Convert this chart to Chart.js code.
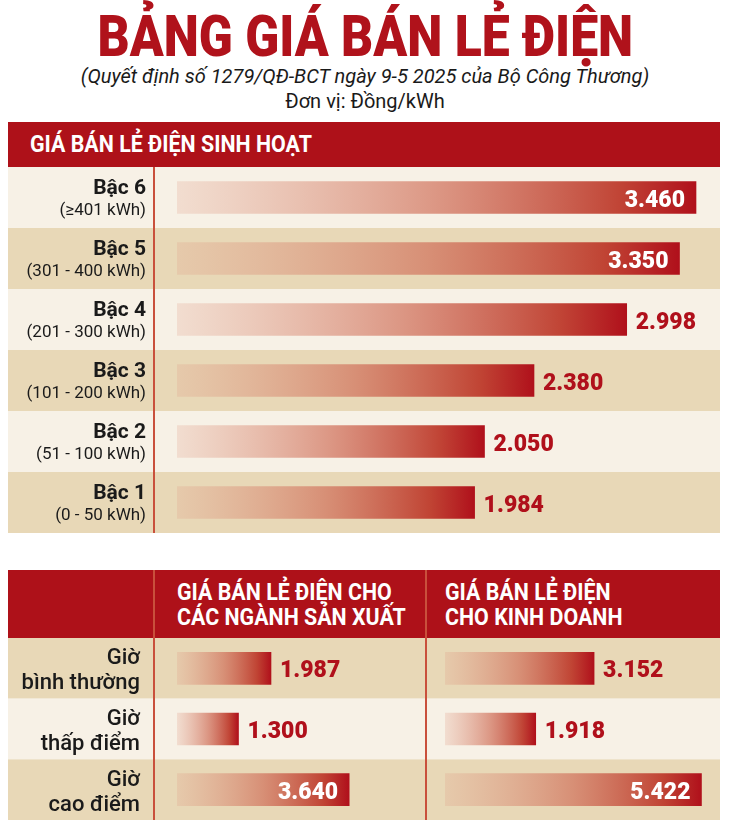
<!DOCTYPE html>
<html lang="vi">
<head>
<meta charset="utf-8">
<title>Bảng giá bán lẻ điện</title>
<script src="https://cdn.jsdelivr.net/npm/chart.js@4.4.1/dist/chart.umd.min.js"></script>
<style>
  html, body { margin: 0; padding: 0; background: #fff; }
  body { width: 730px; height: 820px; position: relative; overflow: hidden; font-family: Roboto, 'Noto Sans', sans-serif; color: #1a1a1a; }
  .abs { position: absolute; }
  .cond { display: inline-block; transform: scaleX(0.93); transform-origin: left center; white-space: nowrap; }
  #title { left: 0; top: 5px; width: 730px; text-align: center; color: #b0121b; font-weight: 900; font-size: 58px; line-height: 62px; }
  #title span { display: inline-block; transform: scaleX(0.86); white-space: nowrap; }
  #sub { left: 0; top: 64px; width: 730px; text-align: center; font-style: italic; font-size: 20px; line-height: 24px; }
  #unit { left: 0; top: 89px; width: 730px; text-align: center; font-size: 20px; line-height: 24px; }
  .band { background: #ae1119; }
  .hdr { color: #fff; font-weight: bold; font-size: 23px; line-height: 25px; }
  .divider { width: 2px; background: #c9503c; }
  canvas { position: absolute; }
</style>
</head>
<body>
<div id="title" class="abs"><span>BẢNG GIÁ BÁN LẺ ĐIỆN</span></div>
<div id="sub" class="abs">(Quyết định số 1279/QĐ-BCT ngày 9-5 2025 của Bộ Công Thương)</div>
<div id="unit" class="abs">Đơn vị: Đồng/kWh</div>

<div class="abs band" style="left:8px;top:122px;width:712px;height:45px;"></div>
<div class="abs hdr" style="left:30px;top:132px;"><span class="cond">GIÁ BÁN LẺ ĐIỆN SINH HOẠT</span></div>

<canvas id="tierChart" width="712" height="366" style="left:8px;top:167px;"></canvas>
<div class="abs divider" style="left:153px;top:167px;height:366px;"></div>

<div class="abs band" style="left:8px;top:570px;width:712px;height:68px;"></div>
<div class="abs hdr" style="left:177px;top:580px;"><span class="cond">GIÁ BÁN LẺ ĐIỆN CHO<br>CÁC NGÀNH SẢN XUẤT</span></div>
<div class="abs hdr" style="left:445px;top:580px;"><span class="cond">GIÁ BÁN LẺ ĐIỆN<br>CHO KINH DOANH</span></div>

<canvas id="prodChart" width="418" height="182" style="left:8px;top:638px;"></canvas>
<canvas id="bizChart" width="294" height="182" style="left:426px;top:638px;"></canvas>
<div class="abs divider" style="left:153px;top:570px;height:250px;"></div>
<div class="abs divider" style="left:425px;top:570px;height:250px;"></div>

<script>
// Giá bán lẻ điện sinh hoạt (đồng/kWh)
const tierNames = ['Bậc 6', 'Bậc 5', 'Bậc 4', 'Bậc 3', 'Bậc 2', 'Bậc 1'];
const tierRanges = ['(≥401 kWh)', '(301 - 400 kWh)', '(201 - 300 kWh)', '(101 - 200 kWh)', '(51 - 100 kWh)', '(0 - 50 kWh)'];
const tierPrices = [3460, 3350, 2998, 2380, 2050, 1984];

// Giá theo khung giờ
const hourTop = ['Giờ', 'Giờ', 'Giờ'];
const hourBottom = ['bình thường', 'thấp điểm', 'cao điểm'];
const productionPrices = [1987, 1300, 3640];
const businessPrices = [3152, 1918, 5422];

const RED = '#b0101b';
const CREAM = '#f7f1e6';
const TAN = '#e8d8b7';
const INSIDE_MIN = 3300; // giá lớn thì ghi số bên trong thanh

function fmt(v) {
    return String(v).replace(/\B(?=(\d{3})+(?!\d))/g, '.');
}

function barGradient(ctx) {
    const chart = ctx.chart;
    const xs = chart.scales.x;
    if (!xs || !chart.chartArea || ctx.raw == null) return RED;
    const x0 = xs.getPixelForValue(0);
    const x1 = xs.getPixelForValue(ctx.raw);
    const g = chart.ctx.createLinearGradient(x0, 0, x1, 0);
    g.addColorStop(0, 'rgba(222,150,128,0.22)');
    g.addColorStop(0.5, 'rgba(208,112,90,0.70)');
    g.addColorStop(0.85, 'rgba(190,60,45,0.95)');
    g.addColorStop(1, RED);
    return g;
}

// nền xen kẽ các hàng + nhãn bên trái
function rowsPlugin(bands, line1, line2, opts) {
    return {
        id: 'rows',
        beforeDraw(chart) {
            const c = chart.ctx;
            const y = chart.scales.y;
            const n = chart.data.labels.length;
            const half = (y.bottom - y.top) / n / 2;
            c.save();
            for (let i = 0; i < n; i++) {
                const yc = y.getPixelForValue(i);
                c.fillStyle = bands[i % bands.length];
                c.fillRect(0, yc - half, chart.width, half * 2);
            }
            if (line1) {
                c.textAlign = 'right';
                c.fillStyle = '#1a1a1a';
                for (let i = 0; i < n; i++) {
                    const yc = y.getPixelForValue(i);
                    c.font = opts.font1;
                    c.fillText(line1[i], opts.right, yc + opts.dy1);
                    c.font = opts.font2;
                    c.fillText(line2[i], opts.right, yc + opts.dy2);
                }
            }
            c.restore();
        }
    };
}

const valueLabels = {
    id: 'valueLabels',
    afterDatasetsDraw(chart) {
        const c = chart.ctx;
        const data = chart.data.datasets[0].data;
        c.save();
        c.font = '900 23px Roboto';
        c.textBaseline = 'alphabetic';
        chart.getDatasetMeta(0).data.forEach((bar, i) => {
            const v = data[i];
            if (v >= INSIDE_MIN) {
                c.fillStyle = '#fff';
                c.textAlign = 'right';
                c.fillText(fmt(v), bar.x - 11, bar.y + 9);
            } else {
                c.fillStyle = RED;
                c.textAlign = 'left';
                c.fillText(fmt(v), bar.x + 9, bar.y + 9);
            }
        });
        c.restore();
    }
};

function makeChart(id, labels, values, maxVal, padLeft, plugins) {
    return new Chart(document.getElementById(id), {
        type: 'bar',
        data: {
            labels: labels,
            datasets: [{
                data: values,
                backgroundColor: barGradient,
                borderWidth: 0,
                barThickness: 32
            }]
        },
        options: {
            indexAxis: 'y',
            responsive: false,
            animation: false,
            layout: { padding: { left: padLeft, right: 0, top: 0, bottom: 0 } },
            scales: {
                x: { display: false, min: 0, max: maxVal },
                y: { display: false }
            },
            plugins: {
                legend: { display: false },
                tooltip: { enabled: false }
            }
        },
        plugins: plugins
    });
}

makeChart('tierChart', tierNames, tierPrices, 3620, 169, [
    rowsPlugin([CREAM, TAN], tierNames, tierRanges, {
        font1: 'bold 21px Roboto', font2: '17px Roboto', right: 138, dy1: -4, dy2: 17
    }),
    valueLabels
]);

makeChart('prodChart', hourBottom, productionPrices, 5264, 169, [
    rowsPlugin([TAN, CREAM], hourTop, hourBottom, {
        font1: '500 22px Roboto', font2: '500 22px Roboto', right: 132, dy1: -4, dy2: 21
    }),
    valueLabels
]);

makeChart('bizChart', hourBottom, businessPrices, 5814, 19, [
    rowsPlugin([TAN, CREAM]),
    valueLabels
]);
</script>
</body>
</html>
